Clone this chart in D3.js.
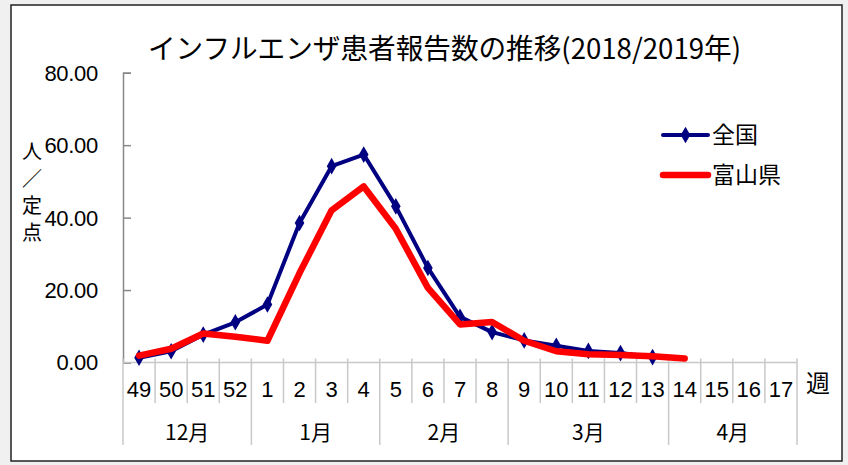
<!DOCTYPE html>
<html>
<head>
<meta charset="utf-8">
<script src="https://cdn.jsdelivr.net/npm/d3@7"></script>
<style>
  body { margin: 0; background: #f0f0f0; }
  svg { display: block; }
  text { font-family: "Liberation Sans Narrow", "Liberation Sans", Arial, sans-serif; fill: #000; }
  .jp { font-family: "Noto Sans CJK JP", sans-serif; }
</style>
</head>
<body>
<svg id="chart"></svg>
<script>
// week categories (2018 wk49 .. 2019 wk17)
const weeks = ['49', '50', '51', '52', '1', '2', '3', '4', '5', '6', '7', '8', '9', '10', '11', '12', '13', '14', '15', '16', '17'];
// month groups: label and first / last week
const months = [
  { label: '12月', from: '49', to: '52' },
  { label: '1月', from: '1', to: '4' },
  { label: '2月', from: '5', to: '8' },
  { label: '3月', from: '9', to: '13' },
  { label: '4月', from: '14', to: '17' }
];
// reports per sentinel
const national = [1.3, 3.1, 7.7, 11.1, 16.0, 38.5, 54.2, 57.4, 43.1, 26.1, 12.6, 8.4, 6.1, 4.6, 3.2, 2.6, 1.5];
const toyama = [1.9, 3.8, 8.0, 7.1, 6.0, 24.7, 42.0, 48.6, 36.9, 20.6, 10.5, 11.2, 6.0, 3.1, 2.3, 2.1, 1.7, 1.1];
const yTicks = [0, 20, 40, 60, 80];

const width = 848, height = 465;
const margin = { top: 72.7, left: 123, right: 51, bottom: 102.5 };

const svg = d3.select('#chart')
  .attr('width', width)
  .attr('height', height);

// white frame
svg.append('rect')
  .attr('x', 11).attr('y', 5)
  .attr('width', 831).attr('height', 456)
  .attr('fill', '#fff')
  .attr('stroke', '#222')
  .attr('stroke-width', 1.5);

const x = d3.scaleBand()
  .domain(weeks)
  .range([margin.left, width - margin.right]);

const y = d3.scaleLinear()
  .domain([0, 80])
  .range([height - margin.bottom, margin.top]);

// title
svg.append('text')
  .attr('class', 'jp')
  .attr('x', 148).attr('y', 59)
  .attr('font-size', 28)
  .attr('textLength', 593)
  .attr('lengthAdjust', 'spacingAndGlyphs')
  .text('インフルエンザ患者報告数の推移(2018/2019年)');

// y axis
const yAxis = d3.axisRight(y)
  .tickValues(yTicks)
  .tickSize(8)
  .tickFormat('');
const yAxisG = svg.append('g')
  .attr('transform', `translate(${margin.left},0)`)
  .call(yAxis);
yAxisG.select('.domain').attr('stroke', '#888').attr('stroke-width', 1.5);
yAxisG.selectAll('.tick line').attr('stroke', '#888').attr('stroke-width', 1.5);

svg.append('g').selectAll('text')
  .data(yTicks)
  .enter()
  .append('text')
  .attr('x', 98)
  .attr('y', d => y(d))
  .attr('dy', '0.36em')
  .attr('text-anchor', 'end')
  .attr('font-size', 22)
  .attr('letter-spacing', -0.3)
  .text(d => d3.format('.2f')(d));

// y axis title, vertical
const yTitle = ['人', '／', '定', '点'];
svg.append('g').selectAll('text')
  .data(yTitle)
  .enter()
  .append('text')
  .attr('class', 'jp')
  .attr('x', 32)
  .attr('y', (d, i) => 159 + i * 27)
  .attr('text-anchor', 'middle')
  .attr('font-size', 20)
  .text(d => d);

// x axis
const x0 = y(0);
svg.append('line')
  .attr('x1', margin.left).attr('x2', width - margin.right)
  .attr('y1', x0).attr('y2', x0)
  .attr('stroke', '#c8c8c8').attr('stroke-width', 1.5);

const bounds = weeks.map(w => x(w)).concat([x(weeks[weeks.length - 1]) + x.bandwidth()]);
svg.append('g').selectAll('line')
  .data(bounds)
  .enter()
  .append('line')
  .attr('x1', d => d).attr('x2', d => d)
  .attr('y1', x0 - 4).attr('y2', 403)
  .attr('stroke', '#c8c8c8').attr('stroke-width', 1.5);

svg.append('g').selectAll('text')
  .data(weeks)
  .enter()
  .append('text')
  .attr('x', d => x(d) + x.bandwidth() / 2)
  .attr('y', 397)
  .attr('text-anchor', 'middle')
  .attr('font-size', 22)
  .text(d => d);

svg.append('text')
  .attr('class', 'jp')
  .attr('x', 818).attr('y', 392)
  .attr('text-anchor', 'middle')
  .attr('font-size', 24)
  .text('週');

// month groups
const mEdges = months.map(m => x(m.from)).concat([x(weeks[weeks.length - 1]) + x.bandwidth()]);
svg.append('g').selectAll('line')
  .data(mEdges)
  .enter()
  .append('line')
  .attr('x1', d => d).attr('x2', d => d)
  .attr('y1', 403).attr('y2', 445)
  .attr('stroke', '#c8c8c8').attr('stroke-width', 1.5);

svg.append('g').selectAll('text')
  .data(months)
  .enter()
  .append('text')
  .attr('class', 'jp')
  .attr('x', d => (x(d.from) + x(d.to) + x.bandwidth()) / 2)
  .attr('y', 440)
  .attr('text-anchor', 'middle')
  .attr('font-size', 21)
  .text(d => d.label);

// series
const line = d3.line()
  .x((d, i) => x(weeks[i]) + x.bandwidth() / 2)
  .y(d => y(d));

svg.append('path')
  .datum(national)
  .attr('fill', 'none')
  .attr('stroke', '#000080')
  .attr('stroke-width', 4)
  .attr('stroke-linejoin', 'round')
  .attr('d', line);

const diamond = d3.symbol().type(d3.symbolDiamond).size(80);
svg.append('g').selectAll('path')
  .data(national)
  .enter()
  .append('path')
  .attr('d', diamond)
  .attr('fill', '#000080')
  .attr('transform', (d, i) => `translate(${x(weeks[i]) + x.bandwidth() / 2},${y(d)})`);

svg.append('path')
  .datum(toyama)
  .attr('fill', 'none')
  .attr('stroke', '#ff0000')
  .attr('stroke-width', 6.5)
  .attr('stroke-linejoin', 'round')
  .attr('stroke-linecap', 'round')
  .attr('d', line);

// legend
const legend = [
  { name: '全国', color: '#000080', w: 4, marker: true, y: 135 },
  { name: '富山県', color: '#ff0000', w: 6.5, marker: false, y: 175 }
];
const lg = svg.append('g');
legend.forEach(l => {
  lg.append('line')
    .attr('x1', 663).attr('x2', 708)
    .attr('y1', l.y).attr('y2', l.y)
    .attr('stroke', l.color)
    .attr('stroke-width', l.w)
    .attr('stroke-linecap', 'round');
  if (l.marker) {
    lg.append('path')
      .attr('d', diamond)
      .attr('fill', l.color)
      .attr('transform', `translate(685.5,${l.y})`);
  }
  lg.append('text')
    .attr('class', 'jp')
    .attr('x', 712).attr('y', l.y)
    .attr('dy', '0.36em')
    .attr('font-size', 23)
    .text(l.name);
});
</script>
</body>
</html>
